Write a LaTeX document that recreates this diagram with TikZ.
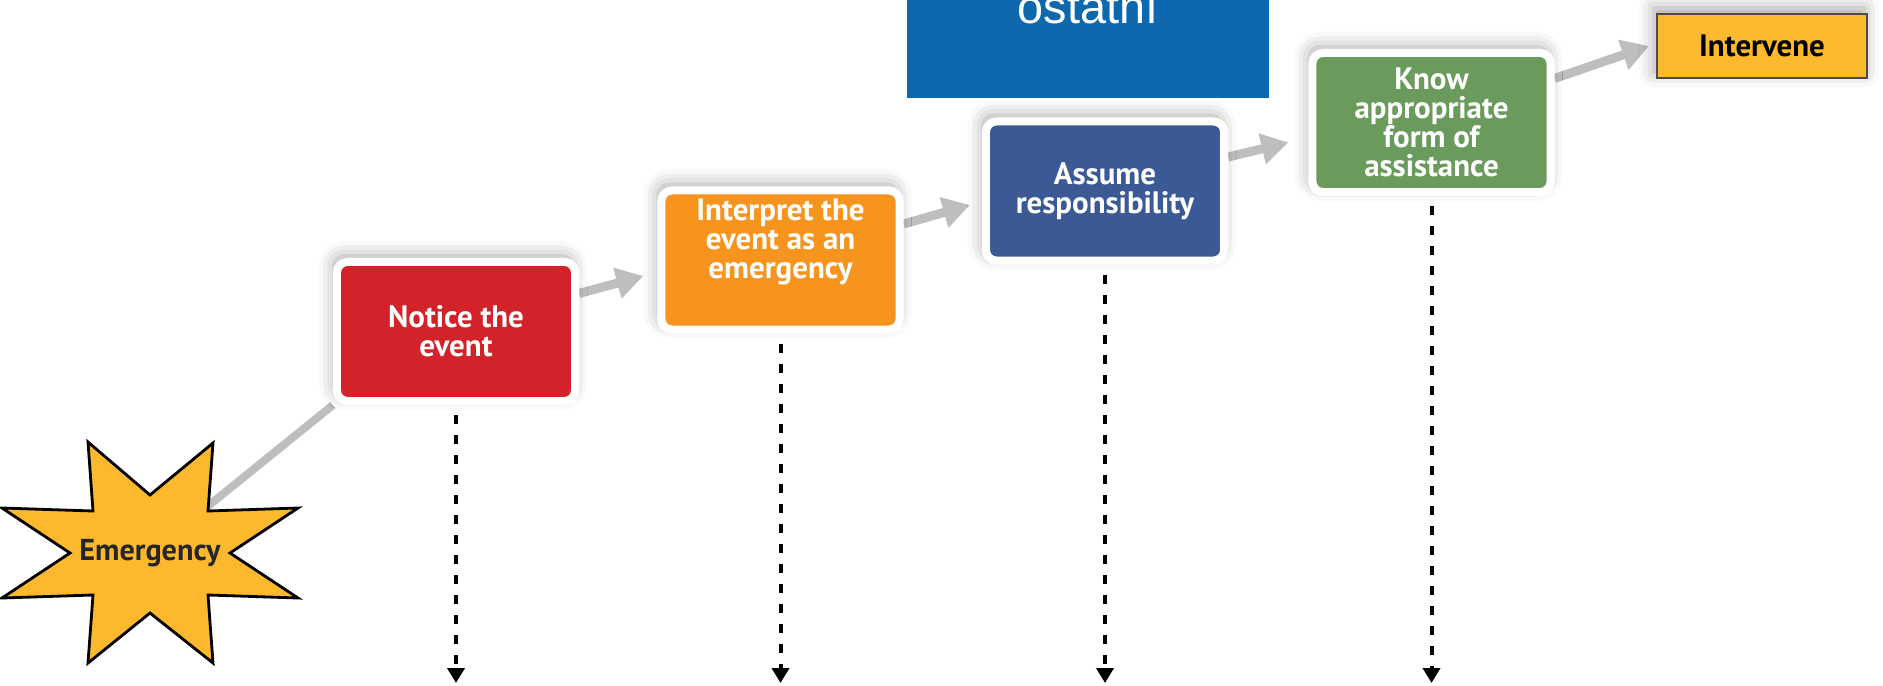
\documentclass[tikz,border=0pt]{standalone}
\usepackage{fontspec}
\setmainfont{PT Sans}
\newfontfamily\arialfont{Liberation Sans}
\usetikzlibrary{arrows.meta,shadows.blur}
\definecolor{rojo}{HTML}{D2232A}
\definecolor{naranja}{HTML}{F7941E}
\definecolor{azul}{HTML}{3B5A95}
\definecolor{verde}{HTML}{6B9A5D}
\definecolor{amarillo}{HTML}{FDB92E}
\definecolor{azulcaja}{HTML}{0E68AE}
\definecolor{gris}{HTML}{BEBEBE}
\pgfdeclarelayer{fondo}
\pgfsetlayers{fondo,main}
\tikzset{
  caja/.style={draw=white, line width=0.08cm, rounded corners=3pt,
    minimum width=2.38cm, minimum height=1.39cm, align=center, text=white,
    font=\fontsize{8.8}{8.3}\selectfont\bfseries,
    blur shadow={shadow xshift=-0.3mm, shadow yshift=0.6mm,
      shadow blur radius=1.5mm, shadow opacity=35}},
  flecha/.style={draw=gris, line width=0.09cm, -{Triangle[length=0.27cm,width=0.3cm]}},
  punteada/.style={line width=0.04cm, dash pattern=on 0.09cm off 0.11cm,
    -{Triangle[length=0.15cm,width=0.17cm]}}
}

\begin{document}
\begin{tikzpicture}[x=0.01cm, y=-0.01cm]
  \useasboundingbox (0,0) rectangle (1883,685);
  % Caja azul de arriba
  \fill[azulcaja] (907,-30) rectangle (1269,98);
  \node[anchor=base, text=white, font=\arialfont\fontsize{13.3}{16}\selectfont] (ostatni) at (1088,24) {ostatní};
  % Estrella
  \filldraw[fill=amarillo, line width=0.8pt] (88,442) -- (150,495) -- (213,443) -- (208,511)
    -- (298,508) -- (230,553) -- (298,598) -- (208,595) -- (213,663) -- (150,613)
    -- (88,663) -- (93,595) -- (2,598) -- (70,553) -- (2,508) -- (93,511) -- cycle;
  \node[font=\fontsize{8.6}{9}\selectfont\bfseries, text=black!85] (emergencia) at (150,553) {Emergency};
  % Pasos
  \node[caja, fill=rojo] (notar) at (456,331.5) {Notice the\\event};
  \node[caja, fill=naranja, inner ysep=0pt, text depth=0.43cm] (interpretar) at (780.5,260) {Interpret the\\event as an\\emergency};
  \node[caja, fill=azul] (asumir) at (1105,191) {Assume\\responsibility};
  \node[caja, fill=verde] (saber) at (1431.5,122.5) {Know\\appropriate\\form of\\assistance};
  \node[caja, draw=black!70, line width=0.6pt, rounded corners=0pt, fill=amarillo, text=black,
    minimum width=2.1cm, minimum height=0.64cm] (intervenir) at (1762,46) {Intervene};
  % Flechas grises
  \begin{pgfonlayer}{fondo}
    \draw[draw=gris, line width=0.08cm] (emergencia) -- (notar.south west);
    \draw[flecha] ([yshift=0.38cm]notar.east) -- ([xshift=-0.14cm,yshift=-0.16cm]interpretar.west);
    \draw[flecha] ([yshift=0.36cm]interpretar.east) -- ([xshift=-0.12cm,yshift=-0.14cm]asumir.west);
    \draw[flecha] ([yshift=0.34cm]asumir.east) -- ([xshift=-0.2cm,yshift=-0.2cm]saber.west);
    \draw[flecha] ([yshift=0.44cm]saber.east) -- ([xshift=-0.07cm]intervenir.west);
  \end{pgfonlayer}
  % Flechas punteadas
  \coordinate (fin) at (0,683);
  \foreach \paso in {notar,interpretar,asumir,saber}
    \draw[punteada, shorten <=0.1cm] (\paso.south) -- (\paso.south |- fin);
\end{tikzpicture}
\end{document}
